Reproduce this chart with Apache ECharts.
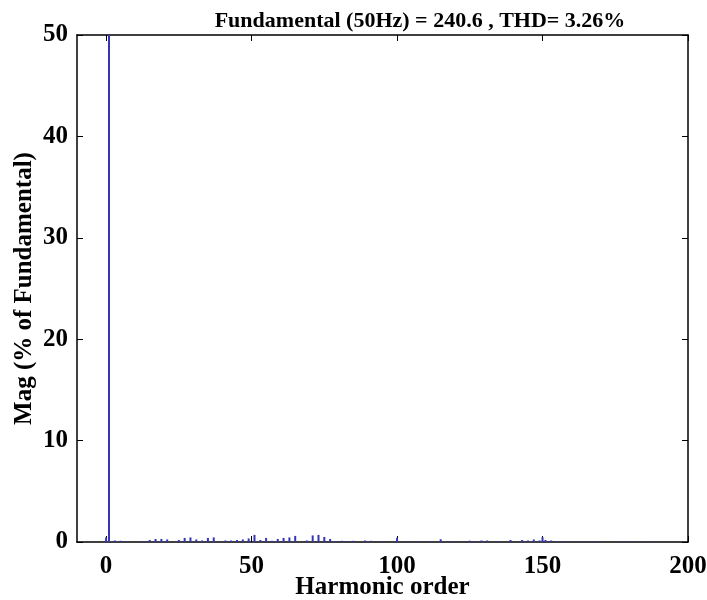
<!DOCTYPE html>
<html lang="en">
<head>
    <meta charset="UTF-8">
    <script src="https://cdn.jsdelivr.net/npm/echarts@6/dist/echarts.min.js"></script>
    <style>
        html, body {margin:0; padding:0; background:#fff;}
        #box {width:707px; height:600px;}
    </style>
    <title>FFT</title>
</head>
<body>
    <div id="box"></div>
    <script>
        // harmonic orders and magnitudes (% of fundamental)
        const orders = [0, 1, 3, 5, 7, 13, 15, 17, 19, 21, 25, 27, 29, 31, 33, 35, 37, 39, 41, 43, 45, 47, 49,
            51, 53, 55, 57, 59, 61, 63, 65, 69, 71, 73, 75, 77, 79, 81, 83, 85, 89, 91, 95, 99, 100,
            103, 107, 111, 115, 119, 125, 127, 129, 131, 135, 139, 143, 145, 147, 149, 150, 151, 153,
            155, 157, 159, 163, 167, 169, 177, 179, 181, 185, 189];
        const mags = [0.45, 100, 0.15, 0.12, 0.08, 0.1, 0.2, 0.3, 0.3, 0.25, 0.2, 0.4, 0.45, 0.25, 0.15, 0.4, 0.45, 0.08, 0.15, 0.15, 0.2, 0.25, 0.35,
            0.7, 0.2, 0.4, 0.12, 0.3, 0.4, 0.45, 0.6, 0.15, 0.65, 0.7, 0.5, 0.3, 0.1, 0.12, 0.1, 0.12, 0.15, 0.12, 0.08, 0.05, 0.42,
            0.08, 0.08, 0.1, 0.27, 0.1, 0.13, 0.1, 0.15, 0.15, 0.1, 0.2, 0.2, 0.15, 0.25, 0.15, 0.48, 0.2, 0.15,
            0.08, 0.08, 0.06, 0.06, 0.06, 0.06, 0.06, 0.06, 0.06, 0.05, 0.05];
        const xTicks = [0, 50, 100, 150, 200];
        const titleText = 'Fundamental (50Hz) = 240.6 , THD= 3.26%';

        const font = 'Liberation Serif';
        let chart = echarts.init(document.getElementById('box'));

        let bars = orders.map((h, i) => [h, mags[i]]);

        // axis look shared by the box sides
        let line = {show:true, onZero:false, lineStyle:{color:'#000', width:1.5}};
        let tick = {show:true, inside:true, length:6, lineStyle:{color:'#000', width:1}, customValues:xTicks};
        let ytick = {show:true, inside:true, length:6, lineStyle:{color:'#000', width:1}};
        let txt = {fontFamily:font, fontWeight:'bold', fontSize:25, color:'#000'};

        let options = {
            animation:false,
            title:{
                text:titleText,
                left:415, top:5, textAlign:'center',
                textStyle:{fontFamily:font, fontWeight:'bold', fontSize:22, color:'#000'}
            },
            grid:{left:77, right:19, top:35, bottom:58, show:false, outerBoundsMode:'none'},
            xAxis:[{
                type:'value', min:-10, max:200,
                axisLine:line, axisTick:tick, splitLine:{show:false},
                axisLabel:Object.assign({customValues:xTicks, margin:12}, txt),
                name:'Harmonic order', nameLocation:'middle', nameGap:33, nameMoveOverlap:false,
                nameTextStyle:txt
            }, {
                type:'value', min:-10, max:200, position:'top',
                axisLine:line, axisTick:tick, axisLabel:{show:false}, splitLine:{show:false}
            }],
            yAxis:[{
                type:'value', min:0, max:50, interval:10,
                axisLine:line, axisTick:ytick, splitLine:{show:false},
                axisLabel:Object.assign({margin:9}, txt),
                name:'Mag (% of Fundamental)', nameLocation:'middle', nameGap:40, nameRotate:90,
                nameMoveOverlap:false,
                nameTextStyle:txt
            }, {
                type:'value', min:0, max:50, interval:10, position:'right',
                axisLine:line, axisTick:ytick, axisLabel:{show:false}, splitLine:{show:false}
            }],
            series:[{
                type:'bar',
                data:bars,
                barWidth:2,
                clip:true,
                itemStyle:{color:'#3535b5'}
            }]
        };
        chart.setOption(options);
    </script>
</body>
</html>
